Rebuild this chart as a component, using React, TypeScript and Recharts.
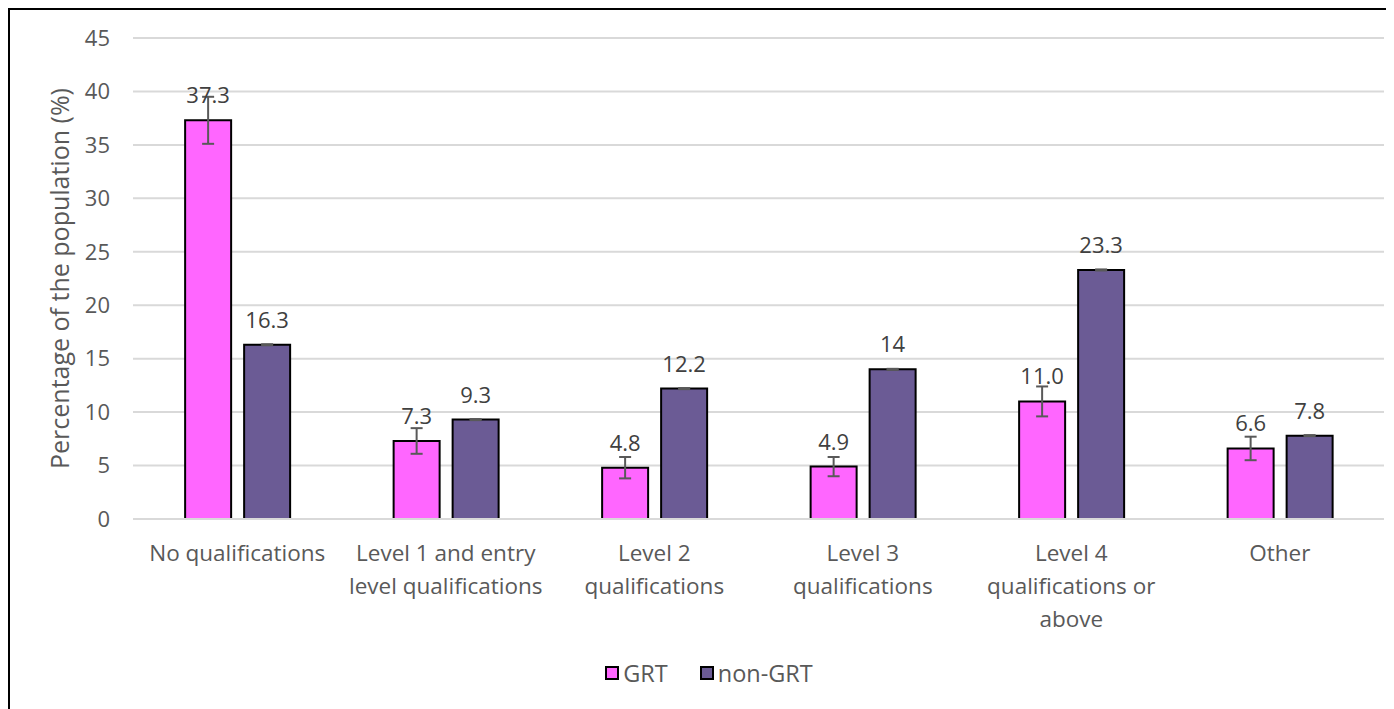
import React from 'react'
import {
  BarChart,
  Bar,
  XAxis,
  YAxis,
  CartesianGrid,
  Legend,
  ErrorBar,
  LabelList,
} from 'recharts'

const FONT = "'Segoe UI', 'Open Sans', sans-serif"

const categories = [
  'No qualifications',
  'Level 1 and entry\nlevel qualifications',
  'Level 2\nqualifications',
  'Level 3\nqualifications',
  'Level 4\nqualifications or\nabove',
  'Other',
]
const grtValues = [37.3, 7.3, 4.8, 4.9, 11.0, 6.6]
const grtErrors = [2.2, 1.2, 1.0, 0.9, 1.4, 1.1]
const nonGrtValues = [16.3, 9.3, 12.2, 14, 23.3, 7.8]
const nonGrtErrors = [0.05, 0.05, 0.05, 0.05, 0.05, 0.05]
const yTicks = [0, 5, 10, 15, 20, 25, 30, 35, 40, 45]

const series = [
  { key: 'grt', name: 'GRT', color: '#FF66FF' },
  { key: 'nonGrt', name: 'non-GRT', color: '#6B5B95' },
]

const data = categories.map((category, i) => ({
  category,
  grt: grtValues[i],
  grtErr: grtErrors[i],
  nonGrt: nonGrtValues[i],
  nonGrtErr: nonGrtErrors[i],
}))

function CategoryTick({ x, y, payload }: any) {
  const lines = String(payload.value).split('\n')
  return (
    <text x={x} y={y} textAnchor="middle" fill="#595959" fontSize={22.5} fontFamily={FONT}>
      {lines.map((line, i) => (
        <tspan key={i} x={x} dy={i === 0 ? 34 : 33}>
          {line}
        </tspan>
      ))}
    </text>
  )
}

function renderLegend() {
  return (
    <div
      style={{
        display: 'flex',
        justifyContent: 'center',
        gap: 32,
        paddingTop: 12,
        paddingLeft: 24,
        lineHeight: '24px',
        fontSize: 23.5,
        color: '#595959',
        fontFamily: FONT,
      }}
    >
      {series.map((s) => (
        <span key={s.key} style={{ display: 'flex', alignItems: 'center' }}>
          <span
            style={{
              width: 10,
              height: 10,
              background: s.color,
              border: '2px solid #000',
              marginRight: 4,
            }}
          />
          {s.name}
        </span>
      ))}
    </div>
  )
}

export default function App() {
  return (
    <div
      style={{
        borderTop: '2px solid #000',
        borderLeft: '2px solid #000',
        width: 1386,
        height: 699,
        background: '#fff',
      }}
    >
      <BarChart
        width={1384}
        height={699}
        data={data}
        margin={{ top: 28, right: 10, left: 0, bottom: 0 }}
        barCategoryGap="25%"
        barGap={13}
      >
        <CartesianGrid vertical={false} stroke="#D9D9D9" strokeWidth={2} />
        <XAxis
          dataKey="category"
          height={130}
          interval={0}
          tickLine={false}
          axisLine={{ stroke: '#D9D9D9', strokeWidth: 2 }}
          tick={<CategoryTick />}
        />
        <YAxis
          width={123}
          domain={[0, 45]}
          ticks={yTicks}
          tickLine={false}
          axisLine={false}
          tickMargin={17}
          tick={{ fill: '#595959', fontSize: 22, fontFamily: FONT }}
          label={{
            value: 'Percentage of the population (%)',
            angle: -90,
            position: 'insideLeft',
            offset: 50,
            style: { textAnchor: 'middle', fill: '#595959', fontSize: 25, fontFamily: FONT },
          }}
        />
        <Legend verticalAlign="bottom" height={60} content={renderLegend} />
        <Bar
          dataKey="grt"
          name="GRT"
          fill="#FF66FF"
          stroke="#000"
          strokeWidth={2}
          isAnimationActive={false}
        >
          <ErrorBar dataKey="grtErr" width={6} stroke="#595959" strokeWidth={2} />
          <LabelList
            dataKey="grt"
            position="top"
            offset={17}
            formatter={(v: any) => Number(v).toFixed(1)}
            style={{ fill: '#404040', fontSize: 22, fontFamily: FONT }}
          />
        </Bar>
        <Bar
          dataKey="nonGrt"
          name="non-GRT"
          fill="#6B5B95"
          stroke="#000"
          strokeWidth={2}
          isAnimationActive={false}
        >
          <ErrorBar dataKey="nonGrtErr" width={6} stroke="#595959" strokeWidth={2} />
          <LabelList
            dataKey="nonGrt"
            position="top"
            offset={17}
            style={{ fill: '#404040', fontSize: 22, fontFamily: FONT }}
          />
        </Bar>
      </BarChart>
    </div>
  )
}
